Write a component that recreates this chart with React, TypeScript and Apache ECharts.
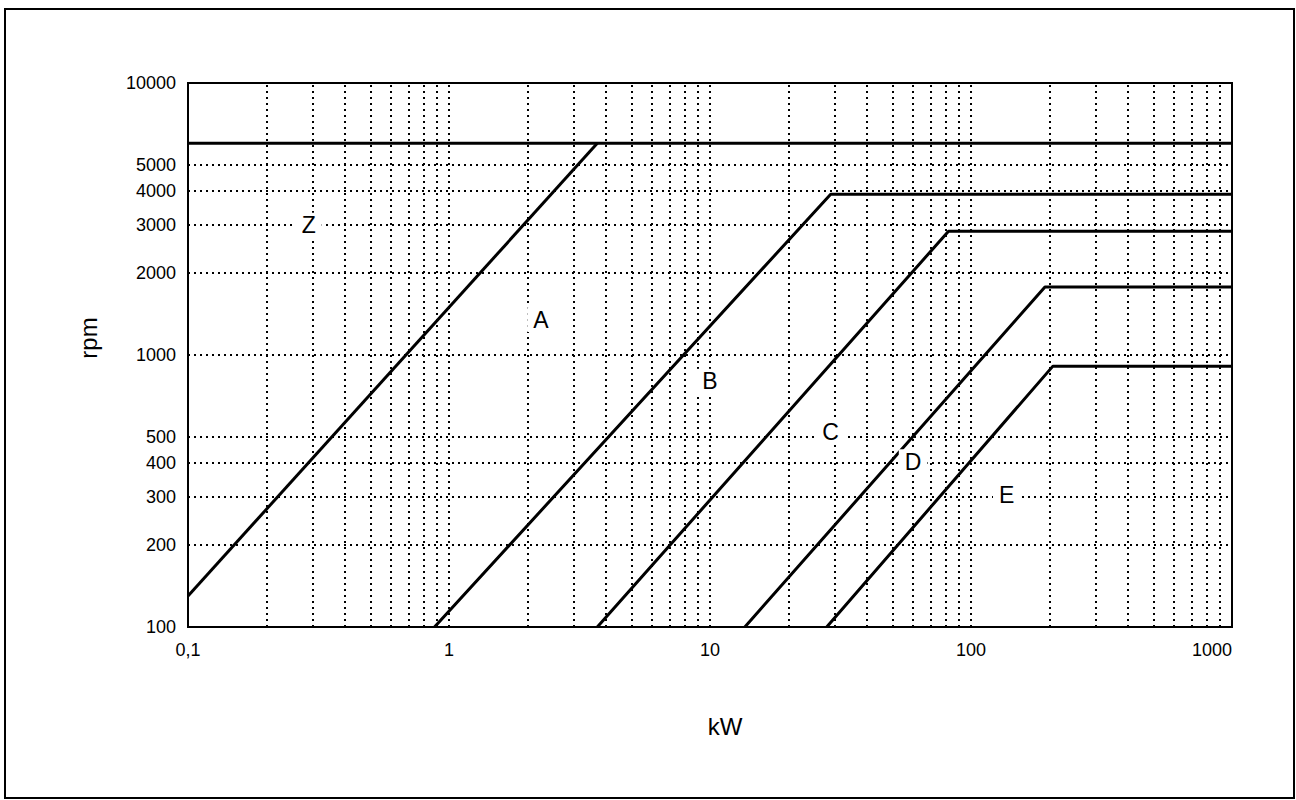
import React, { useEffect, useRef } from "react";
import * as echarts from "echarts";

// ---- data ----
const xRange = [0.1, 1000];
const yRange = [100, 10000];
const yTickValues = [100, 200, 300, 400, 500, 1000, 2000, 3000, 4000, 5000, 10000];
const xGridValues = [
  0.2, 0.3, 0.4, 0.5, 0.6, 0.7, 0.8, 0.9, 1,
  2, 3, 4, 5, 6, 7, 8, 9, 10,
  20, 30, 40, 50, 60, 70, 80, 90, 100,
  200, 300, 400, 500, 600, 700, 800, 900,
];
const yGridValues = [200, 300, 400, 500, 1000, 2000, 3000, 4000, 5000];

const lineTop = [[0.1, 6000], [1000, 6000]];
const lineZA = [[0.1, 130], [3.7, 6000]];
const lineAB = [[0.88, 100], [29, 3900], [1000, 3900]];
const lineBC = [[3.7, 100], [82, 2850], [1000, 2850]];
const lineCD = [[13.6, 100], [192, 1780], [1000, 1780]];
const lineDE = [[28, 100], [206, 910], [1000, 910]];

const regionNames = ["Z", "A", "B", "C", "D", "E"];
const regionX = [0.29, 2.25, 10, 29, 60, 137];
const regionY = [3000, 1350, 800, 520, 405, 305];

const FONT = "'Liberation Sans', Arial, Helvetica, sans-serif";

export default function App() {
  const ref = useRef<HTMLDivElement>(null);

  useEffect(() => {
    if (!ref.current) return;
    const chart = echarts.init(ref.current, null, { renderer: "svg" });

    const gridStyle = { color: "#000", width: 2, type: [2, 4] as any };
    const boundary = (data: number[][]) => ({
      type: "line",
      data,
      symbol: "none",
      silent: true,
      z: 5,
      lineStyle: { color: "#000", width: 3 },
    });

    chart.setOption({
      animation: false,
      backgroundColor: "#fff",
      textStyle: { fontFamily: FONT },
      grid: {
        left: 188,
        top: 83,
        right: 64,
        bottom: 173,
        show: true,
        borderColor: "#000",
        borderWidth: 2,
        backgroundColor: "transparent",
      },
      xAxis: {
        type: "log",
        logBase: 10,
        min: xRange[0],
        max: xRange[1],
        axisLine: { show: false },
        axisTick: { show: false },
        splitLine: { show: false },
        axisLabel: {
          color: "#000",
          fontSize: 18,
          fontFamily: FONT,
          margin: 14,
          alignMaxLabel: "right",
          formatter: (v: number) => String(v).replace(".", ","),
        },
      },
      yAxis: {
        type: "log",
        logBase: 10,
        min: yRange[0],
        max: yRange[1],
        axisLine: { show: false },
        axisTick: { show: false },
        splitLine: { show: false },
        axisLabel: {
          color: "#000",
          fontSize: 18,
          fontFamily: FONT,
          margin: 12,
          customValues: yTickValues,
          formatter: (v: number) => String(v),
        },
      },
      graphic: [
        {
          type: "rect",
          shape: { x: 5, y: 9, width: 1289, height: 789 },
          style: { fill: "none", stroke: "#000", lineWidth: 2 },
          silent: true,
        },
        {
          type: "text",
          x: 88,
          y: 338,
          rotation: Math.PI / 2,
          style: {
            text: "rpm",
            fontSize: 24,
            fontFamily: FONT,
            fill: "#000",
            align: "center",
            verticalAlign: "middle",
          },
        },
        {
          type: "text",
          x: 725,
          y: 726,
          style: {
            text: "kW",
            fontSize: 24,
            fontFamily: FONT,
            fill: "#000",
            align: "center",
            verticalAlign: "middle",
          },
        },
      ],
      series: [
        {
          type: "line",
          data: [],
          silent: true,
          z: 1,
          markLine: {
            silent: true,
            symbol: "none",
            animation: false,
            label: { show: false },
            lineStyle: gridStyle,
            data: [
              ...xGridValues.map((v) => ({ xAxis: v })),
              ...yGridValues.map((v) => ({ yAxis: v })),
            ],
          },
        },
        boundary(lineTop),
        boundary(lineZA),
        boundary(lineAB),
        boundary(lineBC),
        boundary(lineCD),
        boundary(lineDE),
        {
          type: "custom",
          silent: true,
          z: 10,
          data: regionNames.map((n, i) => [regionX[i], regionY[i]]),
          renderItem: (params: any, api: any) => {
            const p = api.coord([api.value(0), api.value(1)]);
            return {
              type: "text",
              x: p[0],
              y: p[1],
              style: {
                text: regionNames[params.dataIndex],
                fontSize: 23,
                fontFamily: FONT,
                fill: "#000",
                align: "center",
                verticalAlign: "middle",
                backgroundColor: "#fff",
                padding: [1, 6],
              },
            };
          },
        },
      ],
    });

    return () => chart.dispose();
  }, []);

  return (
    <div
      ref={ref}
      style={{ position: "absolute", left: 0, top: 0, width: 1296, height: 800 }}
    />
  );
}
